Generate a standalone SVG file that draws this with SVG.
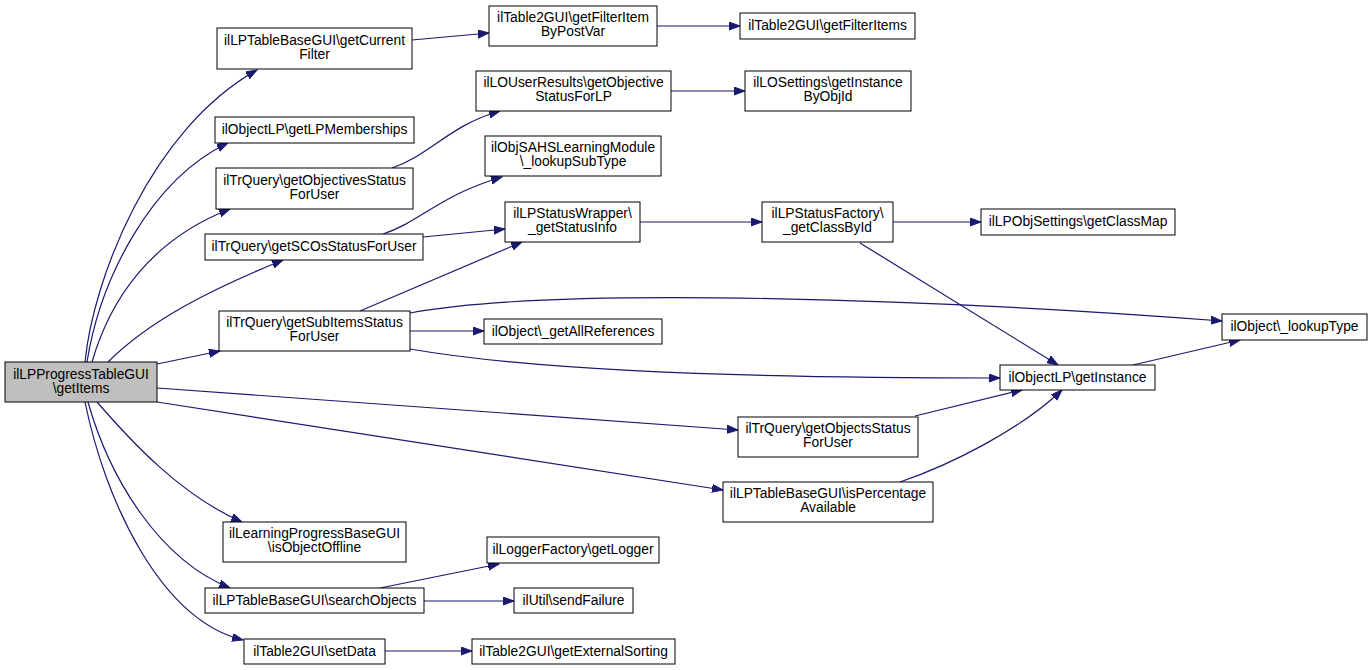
<svg xmlns="http://www.w3.org/2000/svg" width="1372" height="670" viewBox="0 0 1372 670">
<style>
.n rect{fill:#ffffff;stroke:#000000;stroke-width:1}
.root rect{fill:#bfbfbf}
.n text{font-family:"Liberation Sans",Arial,sans-serif;font-size:13.8px;fill:#000000;text-anchor:middle}
.e path{fill:none;stroke:#191970;stroke-width:1.2}
</style>
<defs>
<marker id="a" markerUnits="userSpaceOnUse" markerWidth="12" markerHeight="9" refX="11" refY="4" orient="auto">
<path d="M0,0 L11,4 L0,8 z" fill="#191970" stroke="#191970" stroke-width="1"/>
</marker>
</defs>
<rect width="1372" height="670" fill="#ffffff"/>
<g id="edges" class="e">
<path marker-end="url(#a)" d="M85,362 C93,280 150,130 257,70"/>
<path marker-end="url(#a)" d="M87,362 C100,280 150,180 228,143"/>
<path marker-end="url(#a)" d="M92,362 C110,300 150,240 230,209"/>
<path marker-end="url(#a)" d="M108,362 C150,320 210,290 283,260"/>
<path marker-end="url(#a)" d="M157,364 L220,351"/>
<path marker-end="url(#a)" d="M157,388 L738,430"/>
<path marker-end="url(#a)" d="M157,402 L723,490"/>
<path marker-end="url(#a)" d="M97,402 C130,440 180,495 242,522"/>
<path marker-end="url(#a)" d="M88,402 C110,480 160,560 230,588"/>
<path marker-end="url(#a)" d="M85,402 C105,500 160,620 243,640"/>
<path marker-end="url(#a)" d="M412,40 L489,33"/>
<path marker-end="url(#a)" d="M657,26 L740,26"/>
<path marker-end="url(#a)" d="M392,168 C430,155 450,125 500,111"/>
<path marker-end="url(#a)" d="M671,91 L745,91"/>
<path marker-end="url(#a)" d="M383,234 C420,222 440,195 502,177"/>
<path marker-end="url(#a)" d="M423,237 L505,229"/>
<path marker-end="url(#a)" d="M360,311 L522,242"/>
<path marker-end="url(#a)" d="M410,313 C560,285 950,300 1222,321"/>
<path marker-end="url(#a)" d="M410,331 L484,331"/>
<path marker-end="url(#a)" d="M410,349 C520,368 700,378 1000,378"/>
<path marker-end="url(#a)" d="M640,222 L762,222"/>
<path marker-end="url(#a)" d="M893,222 L981,222"/>
<path marker-end="url(#a)" d="M860,243 L1058,365"/>
<path marker-end="url(#a)" d="M1133,365 L1240,340"/>
<path marker-end="url(#a)" d="M915,416 L1022,390"/>
<path marker-end="url(#a)" d="M900,482 C950,465 1020,430 1062,390"/>
<path marker-end="url(#a)" d="M380,588 L499,564"/>
<path marker-end="url(#a)" d="M424,601 L514,601"/>
<path marker-end="url(#a)" d="M385,651 L472,651"/>
</g>
<g id="n1" class="n root"><rect x="5" y="362" width="152" height="40"/><text x="81" y="379">ilLPProgressTableGUI</text><text x="81" y="393">\getItems</text></g>
<g id="n2" class="n"><rect x="217" y="28" width="195" height="41"/><text x="314.5" y="45">ilLPTableBaseGUI\getCurrent</text><text x="314.5" y="59">Filter</text></g>
<g id="n3" class="n"><rect x="215" y="117" width="199" height="26"/><text x="314.5" y="134">ilObjectLP\getLPMemberships</text></g>
<g id="n4" class="n"><rect x="216" y="168" width="197" height="41"/><text x="314.5" y="185">ilTrQuery\getObjectivesStatus</text><text x="314.5" y="199">ForUser</text></g>
<g id="n5" class="n"><rect x="205" y="234" width="218" height="26"/><text x="314" y="251">ilTrQuery\getSCOsStatusForUser</text></g>
<g id="n6" class="n"><rect x="219" y="311" width="191" height="40"/><text x="314.5" y="327">ilTrQuery\getSubItemsStatus</text><text x="314.5" y="341">ForUser</text></g>
<g id="n7" class="n"><rect x="223" y="522" width="183" height="40"/><text x="314.5" y="538">ilLearningProgressBaseGUI</text><text x="314.5" y="552">\isObjectOffline</text></g>
<g id="n8" class="n"><rect x="205" y="588" width="219" height="25"/><text x="314.5" y="605">ilLPTableBaseGUI\searchObjects</text></g>
<g id="n9" class="n"><rect x="244" y="639" width="141" height="25"/><text x="314.5" y="656">ilTable2GUI\setData</text></g>
<g id="n10" class="n"><rect x="489" y="6" width="168" height="40"/><text x="573" y="22">ilTable2GUI\getFilterItem</text><text x="573" y="36">ByPostVar</text></g>
<g id="n11" class="n"><rect x="740" y="13" width="175" height="26"/><text x="827.5" y="30">ilTable2GUI\getFilterItems</text></g>
<g id="n12" class="n"><rect x="476" y="71" width="195" height="40"/><text x="573.5" y="87">ilLOUserResults\getObjective</text><text x="573.5" y="101">StatusForLP</text></g>
<g id="n13" class="n"><rect x="745" y="71" width="166" height="40"/><text x="828" y="87">ilLOSettings\getInstance</text><text x="828" y="101">ByObjId</text></g>
<g id="n14" class="n"><rect x="485" y="136" width="176" height="40"/><text x="573" y="152">ilObjSAHSLearningModule</text><text x="573" y="166">\_lookupSubType</text></g>
<g id="n15" class="n"><rect x="505" y="202" width="135" height="40"/><text x="572.5" y="218">ilLPStatusWrapper\</text><text x="572.5" y="232">_getStatusInfo</text></g>
<g id="n16" class="n"><rect x="762" y="202" width="131" height="40"/><text x="827.5" y="218">ilLPStatusFactory\</text><text x="827.5" y="232">_getClassById</text></g>
<g id="n17" class="n"><rect x="484" y="319" width="178" height="25"/><text x="573" y="336">ilObject\_getAllReferences</text></g>
<g id="n18" class="n"><rect x="981" y="209" width="194" height="26"/><text x="1078" y="226">ilLPObjSettings\getClassMap</text></g>
<g id="n19" class="n"><rect x="1222" y="314" width="145" height="26"/><text x="1294.5" y="331">ilObject\_lookupType</text></g>
<g id="n20" class="n"><rect x="1000" y="365" width="155" height="25"/><text x="1077.5" y="382">ilObjectLP\getInstance</text></g>
<g id="n21" class="n"><rect x="738" y="417" width="180" height="40"/><text x="828" y="433">ilTrQuery\getObjectsStatus</text><text x="828" y="447">ForUser</text></g>
<g id="n22" class="n"><rect x="723" y="482" width="210" height="40"/><text x="828" y="498">ilLPTableBaseGUI\isPercentage</text><text x="828" y="512">Available</text></g>
<g id="n23" class="n"><rect x="487" y="537" width="172" height="26"/><text x="573" y="554">ilLoggerFactory\getLogger</text></g>
<g id="n24" class="n"><rect x="514" y="588" width="119" height="25"/><text x="573.5" y="605">ilUtil\sendFailure</text></g>
<g id="n25" class="n"><rect x="472" y="639" width="203" height="25"/><text x="573.5" y="656">ilTable2GUI\getExternalSorting</text></g>
</svg>
